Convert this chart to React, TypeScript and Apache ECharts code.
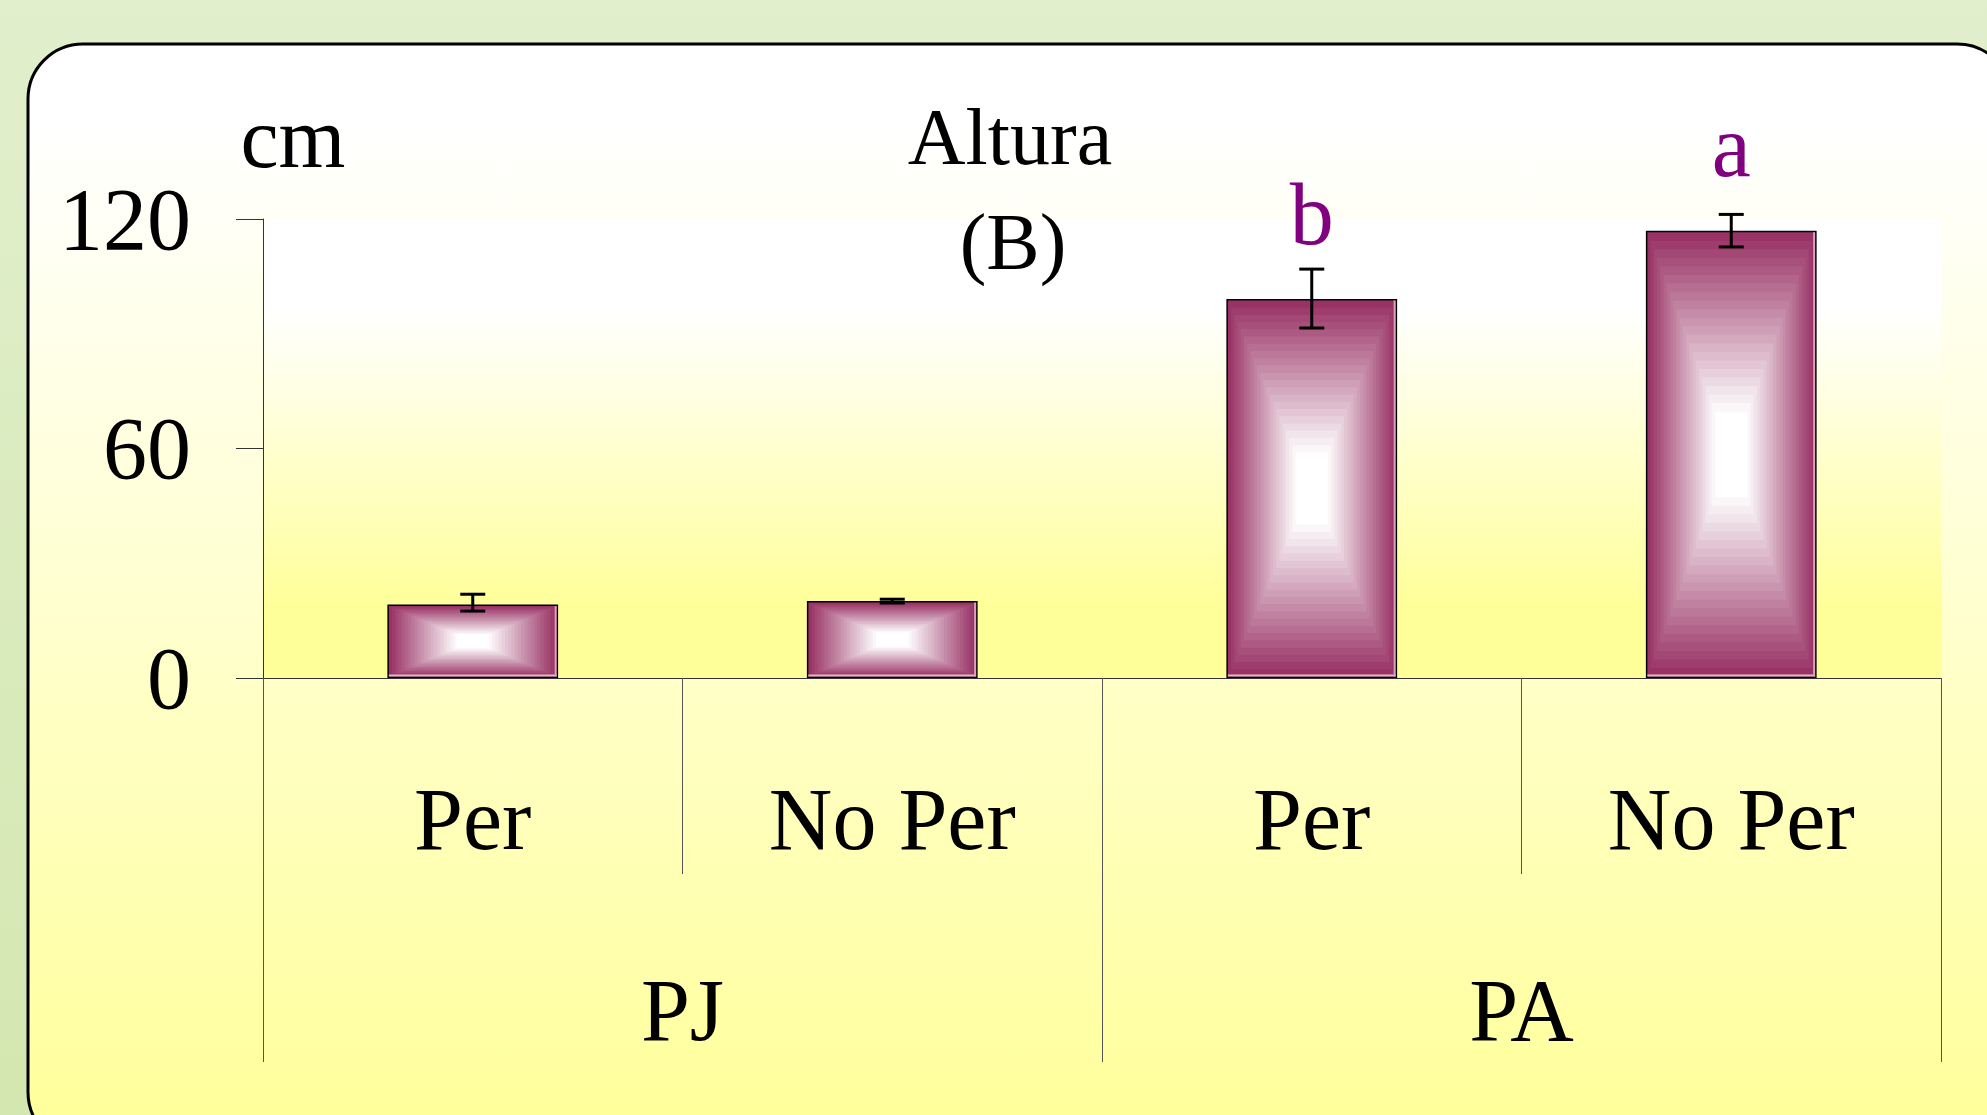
import React, { useEffect, useRef } from "react";
import * as echarts from "echarts";

// ---- data ----
const subCategories = ["Per", "No Per", "Per", "No Per"];
const groupCategories = ["PJ", "PA"];
const heights = [19.2, 20.1, 99.1, 116.9];
const errLow = [17.5, 19.6, 91.5, 112.7];
const errHigh = [21.9, 20.6, 106.9, 121.2];
const letters = ["", "", "b", "a"];
const yMin = 0;
const yMax = 120;
const yInterval = 60;
const titleLine1 = "Altura";
const titleLine2 = "(B)";
const unitLabel = "cm";

// ---- style ----
const FONT = '"Liberation Serif", "Times New Roman", serif';
const BAR_RATIO = 0.407;
const EDGE = [153, 51, 102];
const BANDS = 26;

function bandColor(t: number) {
  const u = Math.min(1, t / 0.8);
  const c = EDGE.map((e) => Math.round(e + (255 - e) * u));
  return `rgb(${c[0]},${c[1]},${c[2]})`;
}

export default function App() {
  const ref = useRef<HTMLDivElement>(null);
  useEffect(() => {
    const chart = echarts.init(ref.current!, null, { renderer: "svg" });
    const option: any = {
      animation: false,
      backgroundColor: new echarts.graphic.LinearGradient(0, 0, 0, 1, [
        { offset: 0, color: "#e1efcc" },
        { offset: 1, color: "#d4e7b0" },
      ]),
      graphic: [
        {
          type: "rect",
          z: -10,
          shape: { x: 28, y: 44, width: 1984, height: 1103, r: 55 },
          style: {
            fill: new echarts.graphic.LinearGradient(0, 0, 0, 1, [
              { offset: 0, color: "#ffffff" },
              { offset: 0.08, color: "#ffffff" },
              { offset: 1, color: "#ffff99" },
            ]),
            stroke: "#000",
            lineWidth: 3,
          },
        },
        {
          type: "text",
          style: { text: unitLabel, x: 293, y: 138, align: "center", verticalAlign: "middle", fontSize: 86, fontFamily: FONT, fill: "#000" },
        },
        {
          type: "text",
          style: { text: titleLine1, x: 1010, y: 137, align: "center", verticalAlign: "middle", fontSize: 80, fontFamily: FONT, fill: "#000" },
        },
        {
          type: "text",
          style: { text: titleLine2, x: 1013, y: 242, align: "center", verticalAlign: "middle", fontSize: 80, fontFamily: FONT, fill: "#000" },
        },
      ],
      grid: {
        left: 263,
        right: 46,
        top: 219,
        bottom: 437,
        show: true,
        borderWidth: 0,
        backgroundColor: new echarts.graphic.LinearGradient(0, 0, 0, 1, [
          { offset: 0, color: "#ffffff" },
          { offset: 0.2, color: "#ffffff" },
          { offset: 0.85, color: "#ffff99" },
          { offset: 1, color: "#ffff99" },
        ]),
      },
      xAxis: [
        {
          type: "category",
          data: subCategories,
          position: "bottom",
          axisLine: { show: true, lineStyle: { color: "#333", width: 1 } },
          axisTick: { show: true, interval: 0, alignWithLabel: false, length: 196, lineStyle: { color: "#555", width: 1 } },
          axisLabel: { interval: 0, fontSize: 88, fontFamily: FONT, color: "#000", margin: 97, lineHeight: 88 },
          splitLine: { show: false },
        },
        {
          type: "category",
          data: groupCategories,
          position: "bottom",
          axisLine: { show: false },
          axisTick: { show: true, interval: 0, alignWithLabel: false, length: 384, lineStyle: { color: "#555", width: 1 } },
          axisLabel: { interval: 0, fontSize: 88, fontFamily: FONT, color: "#000", margin: 288, lineHeight: 88 },
          splitLine: { show: false },
        },
      ],
      yAxis: {
        type: "value",
        min: yMin,
        max: yMax,
        interval: yInterval,
        axisLine: { show: true, lineStyle: { color: "#333", width: 1 } },
        axisTick: { show: true, length: 27, lineStyle: { color: "#333", width: 1 } },
        axisLabel: { fontSize: 88, fontFamily: FONT, color: "#000", margin: 72, padding: [9, 0, 0, 0] },
        splitLine: { show: false },
      },
      series: [
        {
          type: "bar",
          xAxisIndex: 0,
          data: heights,
          barWidth: (BAR_RATIO * 100).toFixed(1) + "%",
          z: 2,
          itemStyle: { color: "#993366", borderColor: "#000", borderWidth: 3 },
        },
        {
          type: "custom",
          xAxisIndex: 0,
          z: 3,
          clip: false,
          data: heights.map((v, i) => [i, v]),
          renderItem: (params: any, api: any) => {
            const i = api.value(0);
            const v = api.value(1);
            const top = api.coord([i, v]);
            const base = api.coord([i, 0]);
            const bw = api.size([1, 0])[0] * BAR_RATIO;
            const inset = 1.5;
            const ix = top[0] - bw / 2 + inset;
            const iy = top[1] + inset;
            const iw = bw - 2 * inset;
            const ih = base[1] - top[1] - 2 * inset;
            const children: any[] = [];
            for (let k = 0; k < BANDS; k++) {
              const t = k / BANDS;
              const dx = (t * iw) / 2;
              const dy = (t * ih) / 2;
              children.push({
                type: "rect",
                shape: { x: ix + dx, y: iy + dy, width: iw - 2 * dx, height: ih - 2 * dy },
                style: { fill: bandColor(t) },
              });
            }
            children.push({
              type: "rect",
              shape: { x: ix, y: iy + ih - 2, width: iw, height: 2 },
              style: { fill: "#e4b8cc" },
            });
            children.push({
              type: "rect",
              shape: { x: ix + iw - 2, y: iy, width: 2, height: ih },
              style: { fill: "#d9a3bd" },
            });
            return { type: "group", children };
          },
        },
        {
          type: "custom",
          xAxisIndex: 0,
          z: 4,
          clip: false,
          data: heights.map((v, i) => [i, errLow[i], errHigh[i], v]),
          renderItem: (params: any, api: any) => {
            const i = api.value(0);
            const lo = api.coord([i, api.value(1)]);
            const hi = api.coord([i, api.value(2)]);
            const barTop = api.coord([i, api.value(3)]);
            const x = hi[0];
            const cap = 12.5;
            const ls = { stroke: "#000", lineWidth: 3 };
            const children: any[] = [
              { type: "line", shape: { x1: x, y1: hi[1], x2: x, y2: lo[1] }, style: ls },
              { type: "line", shape: { x1: x - cap, y1: hi[1], x2: x + cap, y2: hi[1] }, style: ls },
              { type: "line", shape: { x1: x - cap, y1: lo[1], x2: x + cap, y2: lo[1] }, style: ls },
            ];
            const letter = letters[params.dataIndex];
            if (letter) {
              children.push({
                type: "text",
                style: {
                  text: letter,
                  x: x,
                  y: barTop[1] - 84,
                  align: "center",
                  verticalAlign: "middle",
                  fontSize: 88,
                  fontFamily: FONT,
                  fill: "#800080",
                },
              });
            }
            return { type: "group", children };
          },
        },
      ],
    };
    chart.setOption(option);
    return () => chart.dispose();
  }, []);
  return (
    <div
      ref={ref}
      style={{ position: "fixed", left: 0, top: 0, width: 1987, height: 1115 }}
    />
  );
}
